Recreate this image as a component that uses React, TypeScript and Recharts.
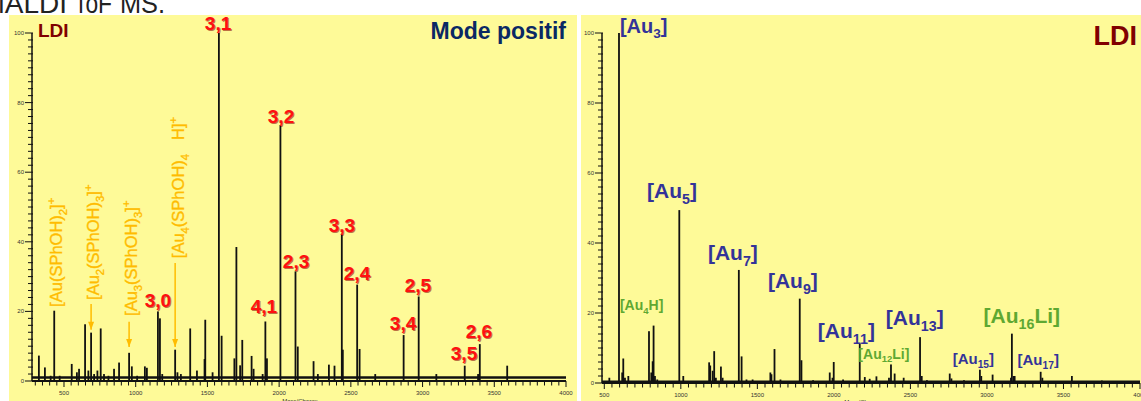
import React from "react";
import { Bar, ComposedChart, ReferenceDot, ReferenceLine, XAxis, YAxis } from "recharts";

const FONT = "Liberation Sans, Arial, sans-serif";
const YELLOW = "#FEFA98";
const ORANGE = "#FFBC00";
const BLUE = "#333399";
const GREEN = "#5EA832";

// LDI, mode positif (left spectrum)
const LEFT_MZ = [
  325, 367, 407, 432, 470, 554, 590, 605, 647, 670, 689, 710, 733, 756, 779, 810, 849, 884, 954, 973,
  1010, 1064, 1078, 1155, 1169, 1185, 1275, 1291, 1315, 1380, 1427, 1480, 1485, 1536, 1580, 1599, 1688,
  1702, 1728, 1743, 1808, 1822, 1885, 1904, 1915, 2009, 2114, 2130, 2240, 2270, 2347, 2386, 2437, 2444,
  2544, 2561, 2670, 2868, 2973, 3096, 3294, 3387, 3399, 3590,
];
const LEFT_INT = [
  7.3, 3.9, 1.5, 20.2, 1.5, 4.9, 2.5, 3.5, 16.3, 3, 13.9, 2, 3, 15.1, 2, 1.5, 3.5, 5.3, 8.1, 4.2,
  1.5, 4.2, 3.8, 20, 18, 2, 9, 2.5, 2, 15.1, 3, 6.3, 17.6, 2.5, 100, 13, 6.5,
  38.5, 4.5, 11.8, 7.2, 3.5, 2, 17.1, 6.5, 73.5, 31.5, 9.9, 5.7, 2, 4.7, 4.4, 42.3, 9,
  27.7, 9.2, 2, 13.2, 24.3, 2, 4.4, 2, 10.6, 4.4,
];

// LDI (right spectrum)
const RIGHT_MZ = [
  533, 596, 617, 624, 635, 657, 792, 807, 816, 822, 831, 846, 990, 1016, 1185, 1192, 1208, 1218, 1229,
  1262, 1273, 1379, 1397, 1429, 1469, 1585, 1592, 1612, 1651, 1777, 1788, 1864, 1973, 1991, 1999, 2060,
  2169, 2202, 2234, 2278, 2360, 2373, 2397, 2456, 2563, 2574, 2608, 2757, 2768, 2850, 2954, 2963, 3037,
  3157, 3163, 3174, 3181, 3351, 3362, 3555, 3751,
];
const RIGHT_INT = [
  1.5, 100, 3, 7, 1.5, 2, 14.8, 3, 6.2, 16.4, 2, 1, 49.4, 2, 5.9, 5, 3.5, 9.1, 1.5,
  4.7, 1.5, 32.3, 7.6, 1, 1, 3, 2.5, 9.7, 1, 24.1, 6.5, 0.8, 3, 1.5, 6, 1,
  11.3, 1.7, 1.2, 1.9, 1.5, 5.3, 2.7, 1.5, 13.1, 2, 0.8, 2.7, 1.3, 0.8, 3.8, 2, 2.4,
  1.5, 14.1, 2, 2, 3.2, 1.5, 2, 0.7,
];

const X_LABELS = [500, 1000, 1500, 2000, 2500, 3000, 3500, 4000];
const Y_LABELS = [0, 20, 40, 60, 80, 100];

const LEFT_CLUSTERS = [
  { mz: 1574, i: 100.9, text: "3,1" },
  { mz: 2013, i: 74.1, text: "3,2" },
  { mz: 2118, i: 32.5, text: "2,3" },
  { mz: 2438, i: 42.8, text: "3,3" },
  { mz: 2543, i: 29.0, text: "2,4" },
  { mz: 2968, i: 25.6, text: "2,5" },
  { mz: 2864, i: 14.7, text: "3,4" },
  { mz: 3289, i: 6.0, text: "3,5" },
  { mz: 3393, i: 12.4, text: "2,6" },
  { mz: 1155, i: 21.3, text: "3,0" },
  { mz: 1894, i: 19.5, text: "4,1" },
];

type Part = { t: string; sub?: boolean; sup?: boolean; dx?: number };

const LEFT_LIGANDS: { mz: number; i: number; parts: Part[] }[] = [
  { mz: 486, i: 21.3, parts: [{ t: "[Au(SPhOH)" }, { t: "2", sub: true }, { t: "]" }, { t: "+", sup: true }] },
  {
    mz: 744,
    i: 23.3,
    parts: [{ t: "[Au" }, { t: "2", sub: true }, { t: "(SPhOH)" }, { t: "3", sub: true }, { t: "]" }, { t: "+", sup: true }],
  },
  {
    mz: 1009,
    i: 18.7,
    parts: [{ t: "[Au" }, { t: "3", sub: true }, { t: "(SPhOH)" }, { t: "3", sub: true }, { t: "]" }, { t: "+", sup: true }],
  },
  {
    mz: 1337,
    i: 35.3,
    parts: [
      { t: "[Au" }, { t: "4", sub: true }, { t: "(SPhOH)" }, { t: "4", sub: true },
      { t: "H]", dx: 14 }, { t: "+", sup: true },
    ],
  },
];

const LEFT_ARROWS = [
  { mz: 689, from: 22.1, to: 14.7 },
  { mz: 954, from: 17.0, to: 9.8 },
  { mz: 1275, from: 33.9, to: 9.8 },
];

const RIGHT_IONS: { mz: number; i: number; parts: Part[]; color: string; size: number }[] = [
  { mz: 602, i: 100.1, parts: [{ t: "[Au" }, { t: "3", sub: true }, { t: "]" }], color: BLUE, size: 20 },
  { mz: 779, i: 52.9, parts: [{ t: "[Au" }, { t: "5", sub: true }, { t: "]" }], color: BLUE, size: 21 },
  { mz: 1177, i: 35.1, parts: [{ t: "[Au" }, { t: "7", sub: true }, { t: "]" }], color: BLUE, size: 21 },
  { mz: 1569, i: 27.1, parts: [{ t: "[Au" }, { t: "9", sub: true }, { t: "]" }], color: BLUE, size: 21 },
  { mz: 1895, i: 12.9, parts: [{ t: "[Au" }, { t: "11", sub: true }, { t: "]" }], color: BLUE, size: 21 },
  { mz: 2339, i: 16.5, parts: [{ t: "[Au" }, { t: "13", sub: true }, { t: "]" }], color: BLUE, size: 21 },
  { mz: 2776, i: 5.4, parts: [{ t: "[Au" }, { t: "15", sub: true }, { t: "]" }], color: BLUE, size: 15 },
  { mz: 3200, i: 5.1, parts: [{ t: "[Au" }, { t: "17", sub: true }, { t: "]" }], color: BLUE, size: 15 },
  { mz: 602, i: 20.8, parts: [{ t: "[Au" }, { t: "4", sub: true }, { t: "H]" }], color: GREEN, size: 14 },
  { mz: 2160, i: 7.0, parts: [{ t: "[Au" }, { t: "12", sub: true }, { t: "Li]" }], color: GREEN, size: 14 },
  { mz: 2978, i: 17.1, parts: [{ t: "[Au" }, { t: "16", sub: true }, { t: "Li]" }], color: GREEN, size: 21 },
];

const range = (a: number, b: number, step: number) => {
  const out: number[] = [];
  for (let v = a; v <= b; v += step) out.push(v);
  return out;
};

const LEFT_X_TICKS = range(300, 4000, 50);
const RIGHT_X_TICKS = range(500, 4000, 50);
const Y_TICKS = range(0, 100, 2);

const leftData = LEFT_MZ.map((mz, k) => ({ mz, i: LEFT_INT[k] }));
const rightData = RIGHT_MZ.map((mz, k) => ({ mz, i: RIGHT_INT[k] }));

function XTick(props: any) {
  const { x, y, payload } = props;
  const major = X_LABELS.includes(payload.value);
  return (
    <g>
      <line x1={x} x2={x} y1={y} y2={y + (major ? 6 : 4.5)} stroke="#111" strokeWidth={1} />
      {major && (
        <text x={x} y={y + 14} textAnchor="middle" fontSize={6} fill="#333" fontFamily={FONT}>
          {payload.value}
        </text>
      )}
    </g>
  );
}

function YTick(props: any) {
  const { x, y, payload } = props;
  const major = Y_LABELS.includes(payload.value);
  return (
    <g>
      <line x1={x - (major ? 7 : 4)} x2={x + 1} y1={y} y2={y} stroke="#111" strokeWidth={1} />
      {major && (
        <text x={x - 8} y={y + 2} textAnchor="end" fontSize={6} fill="#333" fontFamily={FONT}>
          {payload.value}
        </text>
      )}
    </g>
  );
}

// thin stick for each peak, centred on the bar slot recharts gives us
function Stick(props: any) {
  const { x, y, width, height } = props;
  if (!height || height <= 0) return null;
  return <rect x={x + width / 2 - 0.9} y={y} width={1.8} height={height} fill="#111" />;
}

function Rich({ x, y, parts, size, color, weight, rotate, anchor, stroke }: any) {
  let shift = 0;
  const spans = parts.map((p: Part, k: number) => {
    const target = p.sub ? size * 0.28 : p.sup ? -size * 0.4 : 0;
    const dy = target - shift;
    shift = target;
    return (
      <tspan key={k} dy={dy} dx={p.dx} fontSize={p.sub || p.sup ? size * 0.68 : size}>
        {p.t}
      </tspan>
    );
  });
  return (
    <text
      x={x}
      y={y}
      fill={color}
      stroke={stroke ? color : undefined}
      strokeWidth={stroke}
      fontSize={size}
      fontWeight={weight}
      fontFamily={FONT}
      textAnchor={anchor}
      transform={rotate ? `rotate(-90 ${x} ${y})` : undefined}
    >
      {spans}
    </text>
  );
}

function RedLabel({ cx, cy, text }: any) {
  return (
    <g fontFamily={FONT} fontWeight="bold" fontSize={19} textAnchor="middle">
      <text x={cx + 1} y={cy + 1} fill="#8a0000" opacity={0.55}>
        {text}
      </text>
      <text x={cx} y={cy} fill="#ff1010">
        {text}
      </text>
    </g>
  );
}

function Arrowhead({ cx, cy }: any) {
  return <polygon points={`${cx - 3},${cy - 8} ${cx + 3},${cy - 8} ${cx},${cy}`} fill={ORANGE} />;
}

export default function App() {
  return (
    <div style={{ position: "absolute", left: 0, top: 0, width: 1141, height: 401, overflow: "hidden", background: "#fff" }}>
      <div style={{ position: "absolute", left: 9, top: 15, width: 568, height: 386, background: YELLOW }} />
      <div style={{ position: "absolute", left: 581, top: 15, width: 560, height: 386, background: YELLOW }} />

      <div style={{ position: "absolute", left: 0, top: 0 }}>
        <ComposedChart width={580} height={401} data={leftData} margin={{ top: 33, right: 14, bottom: 19, left: 31 }}>
          <XAxis
            dataKey="mz"
            type="number"
            domain={[277, 4000]}
            allowDataOverflow
            ticks={LEFT_X_TICKS}
            interval={0}
            height={1}
            tickSize={0}
            tickMargin={0}
            tick={<XTick />}
            axisLine={{ stroke: "#111", strokeWidth: 2 }}
          />
          <YAxis
            type="number"
            domain={[0, 100]}
            allowDataOverflow
            ticks={Y_TICKS}
            interval={0}
            width={1}
            tickSize={0}
            tickMargin={0}
            tick={<YTick />}
            axisLine={{ stroke: "#111", strokeWidth: 1.5 }}
          />
          <ReferenceLine y={1} stroke="#111" strokeWidth={2.5} />
          <Bar dataKey="i" fill="#111" shape={<Stick />} isAnimationActive={false} />
          {LEFT_ARROWS.map((a, k) => (
            <ReferenceLine
              key={"al" + k}
              segment={[{ x: a.mz, y: a.from }, { x: a.mz, y: a.to }]}
              stroke={ORANGE}
              strokeWidth={1.5}
              ifOverflow="visible"
            />
          ))}
          {LEFT_ARROWS.map((a, k) => (
            <ReferenceDot key={"ah" + k} x={a.mz} y={a.to} r={0} ifOverflow="visible" shape={(p: any) => <Arrowhead cx={p.cx} cy={p.cy} />} />
          ))}
          {LEFT_LIGANDS.map((l, k) => (
            <ReferenceDot
              key={"lg" + k}
              x={l.mz}
              y={l.i}
              r={0}
              ifOverflow="visible"
              shape={(p: any) => <Rich x={p.cx} y={p.cy} parts={l.parts} size={16.5} color={ORANGE} stroke={0.35} rotate />}
            />
          ))}
          {LEFT_CLUSTERS.map((l, k) => (
            <ReferenceDot
              key={"cl" + k}
              x={l.mz}
              y={l.i}
              r={0}
              ifOverflow="visible"
              shape={(p: any) => <RedLabel cx={p.cx} cy={p.cy} text={l.text} />}
            />
          ))}
        </ComposedChart>
      </div>

      <div style={{ position: "absolute", left: 581, top: 0 }}>
        <ComposedChart width={560} height={401} data={rightData} margin={{ top: 33, right: 1, bottom: 17, left: 20 }}>
          <XAxis
            dataKey="mz"
            type="number"
            domain={[485, 4000]}
            allowDataOverflow
            ticks={RIGHT_X_TICKS}
            interval={0}
            height={1}
            tickSize={0}
            tickMargin={0}
            tick={<XTick />}
            axisLine={{ stroke: "#111", strokeWidth: 2 }}
          />
          <YAxis
            type="number"
            domain={[0, 100]}
            allowDataOverflow
            ticks={Y_TICKS}
            interval={0}
            width={1}
            tickSize={0}
            tickMargin={0}
            tick={<YTick />}
            axisLine={{ stroke: "#111", strokeWidth: 1.5 }}
          />
          <ReferenceLine y={0.4} stroke="#111" strokeWidth={2} />
          <Bar dataKey="i" fill="#111" shape={<Stick />} isAnimationActive={false} />
          {RIGHT_IONS.map((l, k) => (
            <ReferenceDot
              key={"ion" + k}
              x={l.mz}
              y={l.i}
              r={0}
              ifOverflow="visible"
              shape={(p: any) => <Rich x={p.cx} y={p.cy} parts={l.parts} size={l.size} color={l.color} weight="bold" />}
            />
          ))}
        </ComposedChart>
      </div>

      <svg width={1141} height={401} style={{ position: "absolute", left: 0, top: 0, pointerEvents: "none" }}>
        <g fontFamily={FONT} fill="#222" fontSize={28}>
          <text x={67} y={13} textAnchor="end">MALDI</text>
          <text x={74} y={13} textLength={38} lengthAdjust="spacingAndGlyphs">ToF</text>
          <text x={120} y={13} textLength={45} lengthAdjust="spacingAndGlyphs">MS.</text>
        </g>
        <text x={38} y={36.7} fontFamily={FONT} fontWeight="bold" fontSize={19} fill="#800000">LDI</text>
        <text x={566} y={39} textAnchor="end" fontFamily={FONT} fontWeight="bold" fontSize={23} fill="#0A2864">
          Mode positif
        </text>
        <text x={1137} y={45} textAnchor="end" fontFamily={FONT} fontWeight="bold" fontSize={27} fill="#800000">LDI</text>
        <text x={300} y={403} textAnchor="middle" fontFamily={FONT} fontSize={6} fill="#333">Mass/Charge</text>
        <text x={862} y={404} textAnchor="middle" fontFamily={FONT} fontSize={6} fill="#333">Mass/Charge</text>
      </svg>
    </div>
  );
}
